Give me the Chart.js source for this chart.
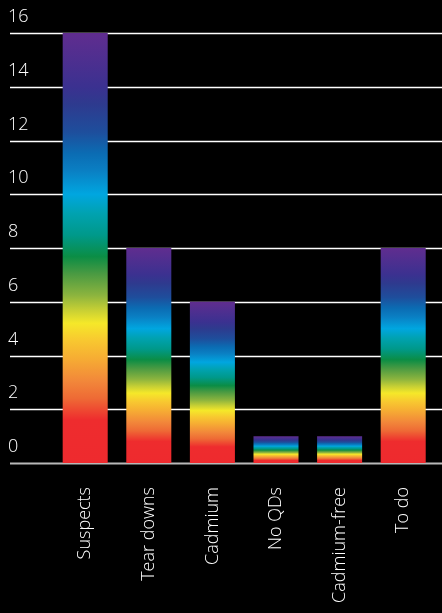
<!DOCTYPE html>
<html>
<head>
<meta charset="utf-8">
<script src="https://cdn.jsdelivr.net/npm/chart.js@4/dist/chart.umd.min.js"></script>
<style>
  html, body { margin: 0; padding: 0; background: #000; }
  #wrap { width: 442px; height: 613px; position: relative; }
</style>
</head>
<body>
<div id="wrap"><canvas id="chart"></canvas></div>
<script>
// Categories and counts
const categories = ["Suspects", "Tear downs", "Cadmium", "No QDs", "Cadmium-free", "To do"];
const counts = [16, 8, 6, 1, 1, 8];

// Value axis range
const yMin = 0;
const yMax = 16;
const yStep = 2;

// Spectrum used to fill each bar, bottom (0) to top (1)
const spectrumStops = [
  [0.00, '#ee2a2e'],
  [0.10, '#ee2c2e'],
  [0.15, '#ee6a35'],
  [0.19, '#f2873a'],
  [0.245, '#f6ae33'],
  [0.285, '#f8c830'],
  [0.325, '#f5e829'],
  [0.355, '#c8d034'],
  [0.39, '#8cb43e'],
  [0.44, '#4a9a42'],
  [0.48, '#0b8d45'],
  [0.53, '#00998a'],
  [0.58, '#00a2b0'],
  [0.625, '#00a6e0'],
  [0.68, '#0a7fc3'],
  [0.72, '#0b6cb3'],
  [0.77, '#1e4e9c'],
  [0.835, '#2e3a8e'],
  [0.875, '#3b3190'],
  [1.00, '#602d8f']
];

const FONT = { family: "'Open Sans', Lato, sans-serif", size: 18, weight: '300' };

function spectrumFill(context) {
  const chart = context.chart;
  const y = chart.scales.y;
  if (!y || !chart.chartArea || context.raw == null) return spectrumStops[0][1];
  const top = y.getPixelForValue(context.raw);
  const base = y.getPixelForValue(0);
  const g = chart.ctx.createLinearGradient(0, base, 0, top);
  spectrumStops.forEach(([o, c]) => g.addColorStop(o, c));
  return g;
}

// Horizontal rules at every value tick, running across the full width
const ruleLines = {
  id: 'ruleLines',
  beforeDatasetsDraw(chart) {
    const { ctx, scales: { y } } = chart;
    ctx.save();
    y.ticks.forEach((t, i) => {
      const py = Math.round(y.getPixelForTick(i)) + 0.5;
      ctx.beginPath();
      ctx.lineWidth = t.value === 0 ? 2 : 1.4;
      ctx.strokeStyle = t.value === 0 ? '#b8b8b8' : '#ffffff';
      ctx.moveTo(y.left + 2, py);
      ctx.lineTo(chart.width, py);
      ctx.stroke();
    });
    ctx.restore();
  }
};

const blackBg = {
  id: 'blackBg',
  beforeDraw(chart) {
    const { ctx } = chart;
    ctx.save();
    ctx.fillStyle = '#000';
    ctx.fillRect(0, 0, chart.width, chart.height);
    ctx.restore();
  }
};

new Chart(document.getElementById('chart'), {
  type: 'bar',
  data: {
    labels: categories,
    datasets: [{
      data: counts,
      backgroundColor: spectrumFill,
      borderWidth: 0,
      barPercentage: 0.885,
      categoryPercentage: 0.8
    }]
  },
  options: {
    responsive: true,
    maintainAspectRatio: false,
    animation: false,
    layout: { padding: { top: 33, left: 8, right: 7, bottom: 0 } },
    plugins: { legend: { display: false }, tooltip: { enabled: false } },
    scales: {
      x: {
        grid: { display: false },
        border: { display: false },
        afterFit(scale) { scale.height = 150; },
        ticks: {
          color: '#ffffff',
          font: FONT,
          minRotation: 90,
          maxRotation: 90,
          autoSkip: false,
          padding: 16
        }
      },
      y: {
        min: yMin,
        max: yMax,
        grid: { display: false },
        border: { display: false },
        afterFit(scale) { scale.width = 45.4; },
        ticks: {
          stepSize: yStep,
          color: '#ffffff',
          font: FONT,
          crossAlign: 'far',
          padding: 0,
          labelOffset: -16
        }
      }
    }
  },
  plugins: [blackBg, ruleLines]
});
</script>
</body>
</html>
